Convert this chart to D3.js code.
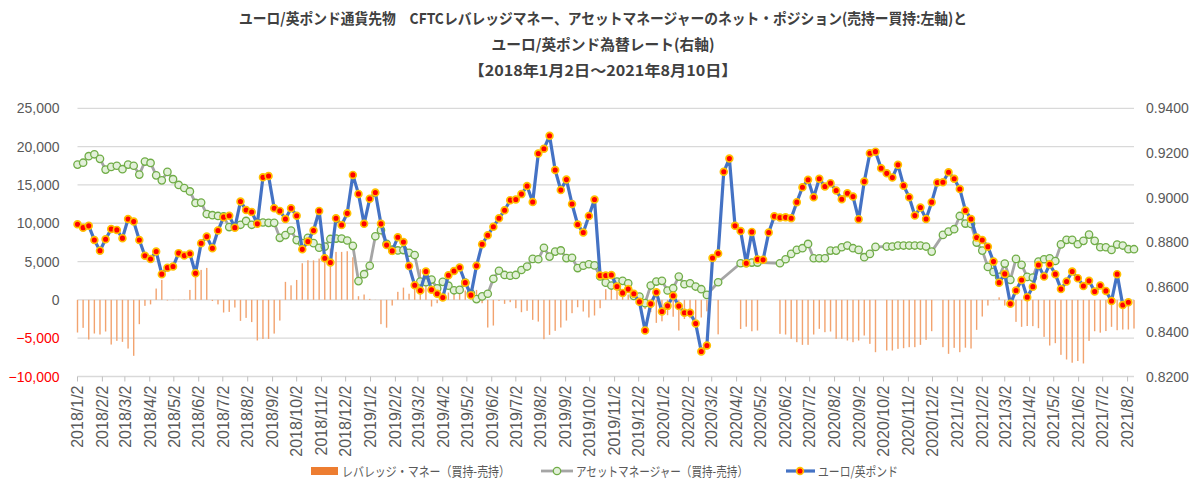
<!DOCTYPE html>
<html><head><meta charset="utf-8">
<script src="https://cdn.jsdelivr.net/npm/d3@7"></script>
<style>body{margin:0;background:#fff;} svg{display:block;}</style>
</head><body>
<svg id="chart" width="1200" height="497"></svg>
<script>
// ---------------- DATA ----------------
const startDate = "2018-01-02";   // first weekly observation (Tuesday)
const weekCount = 189;            // weekly observations up to 2021-08-10

// レバレッジ・マネー（買持-売持） left axis
const leveraged = [
 -4260,-3650,-5170,-4390,-4520,-4130,-5830,-5350,-5480,-6350,
 -7300,-3170,-780,-590,1480,2610,-80,-40,-40,40,
 1300,3650,3910,4170,-150,-590,-1650,-1570,-1000,-2740,
 -2350,-2900,-5300,-5100,-5100,-4400,-2700,2350,1900,2600,
 4780,5170,5150,5390,4950,6700,6260,6260,6350,5560,
 480,700,130,20,-3170,-3630,-740,1050,1600,800,
 1900,4000,3200,-870,-435,960,960,1520,870,1220,
 1090,1300,-435,-3610,-3350,-130,-520,-300,-1090,-1610,
 -1430,-2610,-2830,-5130,-4570,-4040,-3610,-2700,-1740,-960,
 -1520,-2300,-2040,-1090,1390,1600,1300,1000,700,300,
 100,-1200,-1600,-3000,-2800,-2000,-2200,-4000,-2500,-2400,
 -2500,-2300,-1500,null,-4500,null,null,null,-3800,-3500,
 -4100,-4000,null,null,null,-4435,-4522,-5087,-5522,-5870,
 -5870,-4522,-3783,-4217,-4130,-5087,-5087,-5304,-5522,-5304,
 -4652,-5739,-6826,null,-6609,-6609,-6391,-6304,-6174,-6174,
 -5870,-5217,-4087,null,-6174,-7043,-6261,-6826,-6240,-6350,
 -3913,-2174,-740,-40,330,-740,-870,-2870,-3520,-3410,
 -3430,-3696,-4830,-5957,-5650,-7174,-7780,-8200,-7980,-8300,
 -5350,-4090,-4280,-4070,-3520,-3960,-3870,-3870,-3740
];

// アセットマネージャー（買持-売持） left axis
const assetManager = [
 17650,17900,18750,19000,18400,17000,17350,17500,17050,17650,
 17500,16350,18050,17870,16250,15600,16700,15750,15000,14600,
 14150,12650,12700,11200,11050,10950,10900,9500,9600,9800,
 10300,9800,10050,10100,10050,10050,8100,8450,9050,7800,
 7400,8100,7400,6800,6950,7950,8000,8000,7750,7050,
 2450,3350,4450,8300,9100,7300,6550,6450,6500,6150,
 5850,2400,2300,2650,1500,2350,1850,1250,1300,2250,
 870,100,450,800,2750,3800,3250,3150,3250,3900,
 4350,5350,5300,6800,5650,6300,6450,5450,5500,4150,
 4450,4650,4500,3050,2250,1870,2390,2480,2170,520,
 430,-430,1870,2390,2480,1220,1520,3040,2040,2170,
 1740,1390,650,null,2300,null,null,null,4780,4780,
 4870,4870,null,null,null,4780,5300,6000,6520,6740,
 7300,5430,5430,5430,6430,6430,6870,7090,6740,6520,
 5570,6000,6910,null,6960,6960,7090,7090,7090,7090,
 7090,6960,6300,null,8480,8910,9220,10950,9960,9900,
 7480,6430,4300,3650,3000,4740,2610,5350,4570,3000,
 2910,5000,5300,5430,5070,7240,7830,7830,7260,7700,
 8520,7700,6870,6870,6520,7220,7090,6610,6610
];

// ユーロ/英ポンド right axis
const eurgbp = [
 0.8881,0.8866,0.8874,0.8811,0.8763,0.8814,0.8860,0.8856,0.8819,0.8905,
 0.8893,0.8811,0.8740,0.8726,0.8759,0.8658,0.8687,0.8692,0.8752,0.8741,
 0.8749,0.8662,0.8796,0.8826,0.8774,0.8853,0.8913,0.8919,0.8866,0.8983,
 0.8945,0.8936,0.8883,0.9091,0.9097,0.8953,0.8941,0.8905,0.8953,0.8919,
 0.8769,0.8804,0.8853,0.8941,0.8729,0.8710,0.8908,0.8878,0.8930,0.9102,
 0.9017,0.8883,0.8995,0.9023,0.8883,0.8788,0.8762,0.8823,0.8802,0.8694,
 0.8608,0.8585,0.8670,0.8588,0.8570,0.8553,0.8653,0.8672,0.8688,0.8620,
 0.8564,0.8695,0.8792,0.8832,0.8870,0.8908,0.8944,0.8989,0.8992,0.9016,
 0.9052,0.8981,0.9198,0.9219,0.9277,0.9124,0.9034,0.9081,0.8972,0.8880,
 0.8844,0.8918,0.8992,0.8652,0.8652,0.8654,0.8603,0.8574,0.8591,0.8570,
 0.8534,0.8406,0.8525,0.8577,0.8491,0.8516,0.8561,0.8515,0.8485,0.8485,
 0.8437,0.8312,0.8339,0.8730,0.8750,0.9116,0.9175,0.8874,0.8851,0.8707,
 0.8847,0.8724,0.8722,0.8844,0.8917,0.8911,0.8912,0.8908,0.8980,0.9047,
 0.9080,0.9002,0.9085,0.9050,0.9065,0.9032,0.8993,0.9020,0.9005,0.8904,
 0.9072,0.9199,0.9206,0.9132,0.9109,0.9090,0.9147,0.9054,0.9002,0.8920,
 0.8956,0.8905,0.8980,0.9068,0.9069,0.9114,0.9085,0.9039,0.8943,0.8905,
 0.8822,0.8811,0.8781,0.8714,0.8620,0.8659,0.8525,0.8585,0.8632,0.8555,
 0.8602,0.8699,0.8647,0.8702,0.8658,0.8591,0.8625,0.8670,0.8640,0.8605,
 0.8628,0.8580,0.8607,0.8583,0.8538,0.8658,0.8520,0.8532,null
];

const leftTicks = [-10000,-5000,0,5000,10000,15000,20000,25000];
const rightTicks = [0.82,0.84,0.86,0.88,0.90,0.92,0.94];
const monthTicks = [
 "2018/1/2","2018/2/2","2018/3/2","2018/4/2","2018/5/2","2018/6/2","2018/7/2","2018/8/2","2018/9/2","2018/10/2","2018/11/2","2018/12/2",
 "2019/1/2","2019/2/2","2019/3/2","2019/4/2","2019/5/2","2019/6/2","2019/7/2","2019/8/2","2019/9/2","2019/10/2","2019/11/2","2019/12/2",
 "2020/1/2","2020/2/2","2020/3/2","2020/4/2","2020/5/2","2020/6/2","2020/7/2","2020/8/2","2020/9/2","2020/10/2","2020/11/2","2020/12/2",
 "2021/1/2","2021/2/2","2021/3/2","2021/4/2","2021/5/2","2021/6/2","2021/7/2","2021/8/2"
];
const titleLines = [
 "ユーロ/英ポンド通貨先物　CFTCレバレッジマネー、アセットマネージャーのネット・ポジション(売持ー買持:左軸)と",
 "ユーロ/英ポンド為替レート(右軸)",
 "【2018年1月2日～2021年8月10日】"
];
const legendLabels = ["レバレッジ・マネー（買持-売持）","アセットマネージャー（買持-売持）","ユーロ/英ポンド"];

// ---------------- LAYOUT ----------------
const svg = d3.select("#chart");
const plot = {left:77.5, right:1134, top:108.3, bottom:376.5};
const FONT = "'Noto Sans CJK JP','Noto Sans',sans-serif";
const NUMFONT = "'Liberation Sans',Arial,sans-serif";

const t0 = d3.utcParse("%Y-%m-%d")(startDate);
const dates = d3.range(weekCount).map(i => d3.utcDay.offset(t0, 7*i));
const x = d3.scaleUtc().domain([dates[0], dates[dates.length-1]]).range([plot.left, plot.right]);
const yL = d3.scaleLinear().domain([-10000,25000]).range([plot.bottom, plot.top]);
const yR = d3.scaleLinear().domain([0.82,0.94]).range([plot.bottom, plot.top]);
const parseTick = d3.utcParse("%Y/%m/%d");

// gridlines
svg.append("g").selectAll("line").data(leftTicks).join("line")
  .attr("x1", plot.left).attr("x2", plot.right)
  .attr("y1", d=>yL(d)).attr("y2", d=>yL(d))
  .attr("stroke", "#D9D9D9").attr("stroke-width", 1.3);

// x tick marks
svg.append("g").selectAll("line").data(monthTicks).join("line")
  .attr("x1", d=>x(parseTick(d))).attr("x2", d=>x(parseTick(d)))
  .attr("y1", plot.bottom).attr("y2", plot.bottom+5)
  .attr("stroke", "#BFBFBF").attr("stroke-width", 1);

// left axis labels
const fmt = d3.format(",");
svg.append("g").selectAll("text").data(leftTicks).join("text")
  .attr("x", 59.5).attr("y", d=>yL(d)).attr("dy","0.36em")
  .attr("text-anchor","end")
  .attr("font-family", NUMFONT).attr("font-size", 14)
  .attr("fill", d=> d<0 ? "#FF0000" : "#595959")
  .text(d=>fmt(d));

// right axis labels
svg.append("g").selectAll("text").data(rightTicks).join("text")
  .attr("x", 1146).attr("y", d=>yR(d)).attr("dy","0.36em")
  .attr("text-anchor","start")
  .attr("font-family", NUMFONT).attr("font-size", 14)
  .attr("fill", "#595959")
  .text(d=>d3.format(".4f")(d));

// x labels (rotated)
svg.append("g").selectAll("text").data(monthTicks).join("text")
  .attr("transform", d=>`translate(${x(parseTick(d))},${plot.bottom+9}) rotate(-90)`)
  .attr("dy","0.36em")
  .attr("text-anchor","end")
  .attr("font-family", NUMFONT).attr("font-size", 16)
  .attr("fill", "#595959")
  .text(d=>d);

// bars
const barData = dates.map((d,i)=>({d, v:leveraged[i]})).filter(o=>o.v!==null);
svg.append("g").selectAll("rect").data(barData).join("rect")
  .attr("x", o=>x(o.d)-0.7).attr("width", 1.4)
  .attr("y", o=>Math.min(yL(o.v), yL(0)))
  .attr("height", o=>Math.abs(yL(o.v)-yL(0)))
  .attr("fill", "#F2A36F");

// asset manager line
const amData = dates.map((d,i)=>({d, v:assetManager[i]})).filter(o=>o.v!==null);
svg.append("path").datum(amData)
  .attr("d", d3.line().x(o=>x(o.d)).y(o=>yL(o.v)))
  .attr("fill","none").attr("stroke","#A5A5A5").attr("stroke-width",2.8).attr("stroke-linejoin","round");
svg.append("g").selectAll("circle").data(amData).join("circle")
  .attr("cx", o=>x(o.d)).attr("cy", o=>yL(o.v)).attr("r", 3.7)
  .attr("fill","#E2F0D9").attr("stroke","#70AD47").attr("stroke-width",1.3);

// EUR/GBP line
const fxData = dates.map((d,i)=>({d, v:eurgbp[i]})).filter(o=>o.v!==null);
svg.append("path").datum(fxData)
  .attr("d", d3.line().x(o=>x(o.d)).y(o=>yR(o.v)))
  .attr("fill","none").attr("stroke","#4472C4").attr("stroke-width",3.2).attr("stroke-linejoin","round");
svg.append("g").selectAll("circle").data(fxData).join("circle")
  .attr("cx", o=>x(o.d)).attr("cy", o=>yR(o.v)).attr("r", 3.4)
  .attr("fill","#FF0000").attr("stroke","#FFC000").attr("stroke-width",1.7);

// title
const titleY = [24, 50, 76];
const titleW = [728, 223, 269];
svg.append("g").selectAll("text").data(titleLines).join("text")
  .attr("x", 603).attr("y", (d,i)=>titleY[i])
  .attr("text-anchor","middle")
  .attr("font-family", FONT).attr("font-weight","bold").attr("font-size", 15)
  .attr("fill","#404040")
  .attr("textLength", (d,i)=>titleW[i]).attr("lengthAdjust","spacingAndGlyphs")
  .text(d=>d);

// legend
const lg = svg.append("g").attr("font-family", FONT).attr("font-size", 13).attr("fill","#595959");
const legY = 471;
lg.append("rect").attr("x",311).attr("y",legY-4).attr("width",27).attr("height",8).attr("fill","#ED7D31");
lg.append("text").attr("x",342).attr("y",legY).attr("dy","0.36em").text(legendLabels[0])
  .attr("textLength",168).attr("lengthAdjust","spacingAndGlyphs");
lg.append("line").attr("x1",541).attr("x2",573).attr("y1",legY).attr("y2",legY).attr("stroke","#A5A5A5").attr("stroke-width",2.8);
lg.append("circle").attr("cx",557).attr("cy",legY).attr("r",3.7).attr("fill","#E2F0D9").attr("stroke","#70AD47").attr("stroke-width",1.3);
lg.append("text").attr("x",576).attr("y",legY).attr("dy","0.36em").text(legendLabels[1])
  .attr("textLength",172).attr("lengthAdjust","spacingAndGlyphs");
lg.append("line").attr("x1",786).attr("x2",815).attr("y1",legY).attr("y2",legY).attr("stroke","#4472C4").attr("stroke-width",3.2);
lg.append("circle").attr("cx",800).attr("cy",legY).attr("r",3.4).attr("fill","#FF0000").attr("stroke","#FFC000").attr("stroke-width",1.7);
lg.append("text").attr("x",818).attr("y",legY).attr("dy","0.36em").text(legendLabels[2])
  .attr("textLength",80).attr("lengthAdjust","spacingAndGlyphs");
</script>
</body></html>
